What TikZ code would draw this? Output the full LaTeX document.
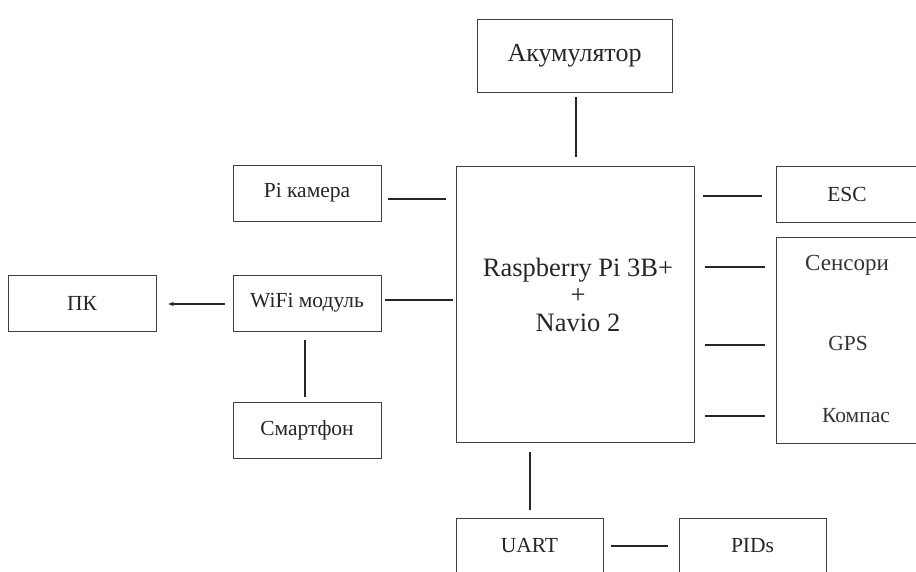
\documentclass[tikz,border=0pt]{standalone}
\usepackage{fontspec}
\setmainfont{Liberation Serif}
\usetikzlibrary{calc,arrows.meta}
\tikzset{
  blk/.style={draw=black!75, line width=0.9pt, inner sep=0pt, minimum width=148pt, minimum height=56pt, font=\fontsize{21.5}{24}\selectfont, text=black!85},
  conn/.style={draw=black!85, line width=1.4pt},
  lbl/.style={inner sep=0pt, font=\fontsize{21.5}{24}\selectfont, text=black!80},
}
\begin{document}
\begin{tikzpicture}[x=1pt,y=-1pt]
\useasboundingbox (0,0) rectangle (916,572);
% boxes
\node[blk, minimum width=195pt, minimum height=73pt, font=\fontsize{26}{28}\selectfont] (bat) at (574.5,55.5) {Акумулятор};
\node[blk, minimum width=238pt, minimum height=276pt] (rpi) at (575,304) {};
\node[inner sep=0pt, align=center, text=black!85, font=\fontsize{26.5}{27.5}\selectfont] (rpit) at (578,294.5) {Raspberry Pi 3B+\\+\\Navio 2};
\node[blk] (cam) at (307,193) {Pi камера};
\node[blk] (wifi) at (307,303) {WiFi модуль};
\node[blk] (smart) at (307,430) {Смартфон};
\node[blk] (pk) at (82,303) {ПК};
\node[blk, minimum width=142pt] (esc) at (847,194) {ESC};
\node[blk, minimum width=142pt, minimum height=206pt] (sens) at (847,340) {};
\node[lbl, font=\fontsize{23}{24}\selectfont] (sen) at (847,265) {Сенсори};
\node[lbl] (gps) at (848,343) {GPS};
\node[lbl] (kom) at (856,416) {Компас};
\node[blk, minimum width=147pt] (uart) at (529.5,546) {UART};
\node[blk, minimum width=147pt] (pids) at (752.5,546) {PIDs};
% connectors
\draw[conn] ($(bat.south)+(1.5,5)$) -- ($(bat.south |- rpi.north)+(1.5,-9)$);
\draw[conn] ($(cam.east)+(7,6)$) -- ($(rpi.west |- cam.east)+(-10,6)$);
\draw[conn] ($(wifi.east)+(4,-3)$) -- ($(rpi.west |- wifi.east)+(-3,-3)$);
\draw[conn, -{Latex[length=6pt,width=4.5pt]}] ($(wifi.west)+(-8,1)$) -- ($(pk.east)+(11,1)$);
\draw[conn] ($(wifi.south)+(-2,9)$) -- ($(wifi.south |- smart.north)+(-2,-5)$);
\draw[conn] ($(rpi.east |- esc.west)+(9,2)$) -- ($(esc.west)+(-14,2)$);
\draw[conn] ($(rpi.east |- sen)+(11,2)$) -- ($(sens.west |- sen)+(-11,2)$);
\draw[conn] ($(rpi.east |- gps)+(11,2)$) -- ($(sens.west |- gps)+(-11,2)$);
\draw[conn] ($(rpi.east |- kom)+(11,0)$) -- ($(sens.west |- kom)+(-11,0)$);
\draw[conn] ($(uart.north |- rpi.south)+(0.5,10)$) -- ($(uart.north)+(0.5,-8)$);
\draw[conn] ($(uart.east)+(8,0)$) -- ($(pids.west)+(-11,0)$);
\end{tikzpicture}
\end{document}
